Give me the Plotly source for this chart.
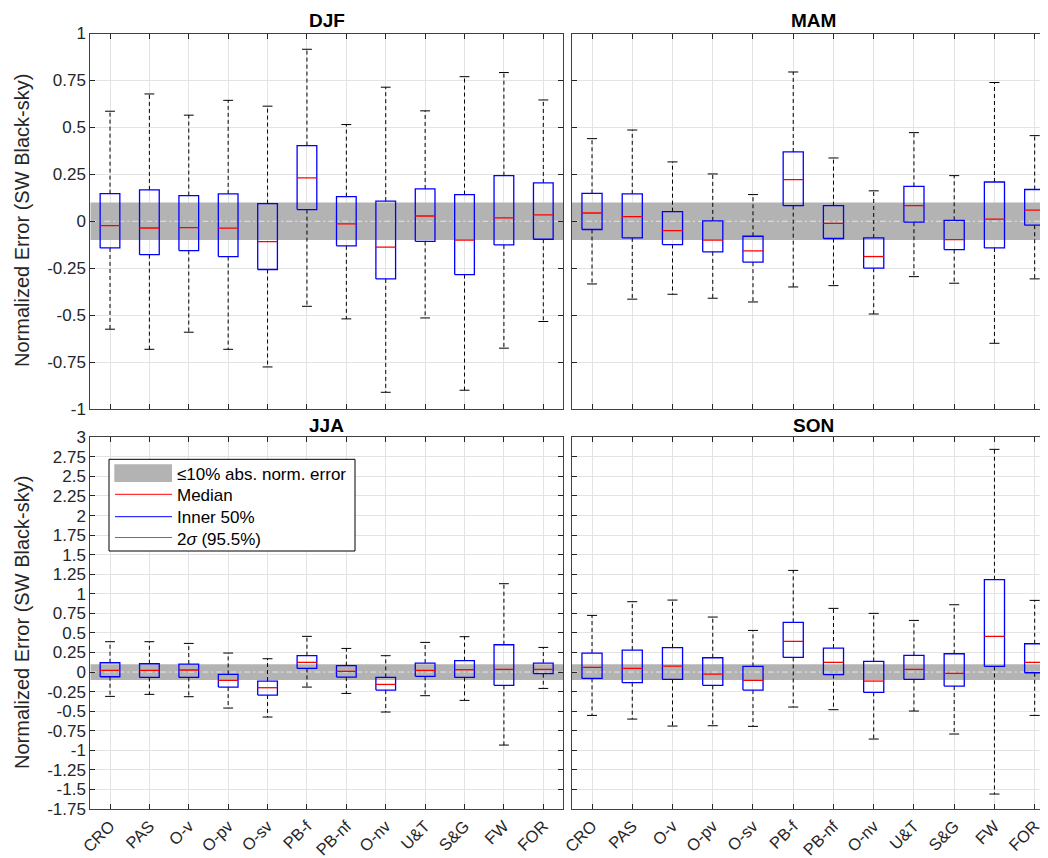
import plotly.graph_objects as go

# ---------------- data ----------------
categories = ["CRO", "PAS", "O-v", "O-pv", "O-sv", "PB-f", "PB-nf", "O-nv", "U&T", "S&G", "FW", "FOR"]

djf_hi = [0.586, 0.678, 0.565, 0.644, 0.613, 0.916, 0.515, 0.714, 0.588, 0.770, 0.792, 0.646]
djf_q3 = [0.147, 0.167, 0.137, 0.146, 0.094, 0.403, 0.131, 0.107, 0.172, 0.142, 0.243, 0.204]
djf_med = [-0.023, -0.036, -0.034, -0.037, -0.108, 0.231, -0.014, -0.138, 0.028, -0.101, 0.018, 0.034]
djf_q1 = [-0.142, -0.178, -0.156, -0.188, -0.257, 0.062, -0.131, -0.307, -0.107, -0.284, -0.126, -0.096]
djf_lo = [-0.575, -0.682, -0.591, -0.682, -0.776, -0.453, -0.520, -0.911, -0.515, -0.900, -0.676, -0.534]

mam_hi = [0.440, 0.486, 0.316, 0.252, 0.142, 0.795, 0.337, 0.162, 0.472, 0.243, 0.739, 0.456]
mam_q3 = [0.149, 0.146, 0.051, 0.002, -0.080, 0.369, 0.083, -0.089, 0.186, 0.005, 0.209, 0.169]
mam_med = [0.044, 0.025, -0.050, -0.101, -0.158, 0.222, -0.011, -0.188, 0.083, -0.098, 0.011, 0.059]
mam_q1 = [-0.044, -0.089, -0.124, -0.163, -0.218, 0.083, -0.092, -0.250, -0.005, -0.151, -0.142, -0.021]
mam_lo = [-0.334, -0.415, -0.389, -0.410, -0.430, -0.350, -0.343, -0.494, -0.295, -0.330, -0.650, -0.307]

jja_hi = [0.388, 0.388, 0.366, 0.243, 0.170, 0.456, 0.302, 0.209, 0.379, 0.452, 1.129, 0.315]
jja_q3 = [0.119, 0.106, 0.102, -0.030, -0.115, 0.209, 0.081, -0.068, 0.115, 0.145, 0.349, 0.115]
jja_med = [0.021, 0.021, 0.026, -0.106, -0.200, 0.124, 0.009, -0.158, 0.021, 0.030, 0.034, 0.034]
jja_q1 = [-0.060, -0.068, -0.068, -0.192, -0.294, 0.047, -0.064, -0.230, -0.055, -0.068, -0.170, -0.021]
jja_lo = [-0.311, -0.285, -0.315, -0.460, -0.575, -0.192, -0.273, -0.511, -0.302, -0.362, -0.933, -0.209]

son_hi = [0.724, 0.899, 0.920, 0.703, 0.532, 1.299, 0.814, 0.750, 0.660, 0.860, 2.846, 0.916]
son_q3 = [0.243, 0.281, 0.311, 0.183, 0.072, 0.635, 0.307, 0.136, 0.213, 0.234, 1.180, 0.362]
son_med = [0.060, 0.047, 0.077, -0.026, -0.106, 0.392, 0.124, -0.115, 0.034, -0.017, 0.456, 0.124]
son_q1 = [-0.081, -0.136, -0.094, -0.170, -0.230, 0.187, -0.034, -0.260, -0.094, -0.179, 0.072, -0.009]
son_lo = [-0.554, -0.601, -0.690, -0.686, -0.694, -0.447, -0.481, -0.856, -0.498, -0.792, -1.559, -0.554]

season_titles = ["DJF", "MAM", "JJA", "SON"]
top_ticks = [-1, -0.75, -0.5, -0.25, 0, 0.25, 0.5, 0.75, 1]
top_tick_labels = ["-1", "-0.75", "-0.5", "-0.25", "0", "0.25", "0.5", "0.75", "1"]
bot_ticks = [-1.75, -1.5, -1.25, -1, -0.75, -0.5, -0.25, 0, 0.25, 0.5, 0.75, 1,
             1.25, 1.5, 1.75, 2, 2.25, 2.5, 2.75, 3]
bot_tick_labels = ["-1.75", "-1.5", "-1.25", "-1", "-0.75", "-0.5", "-0.25", "0", "0.25",
                   "0.5", "0.75", "1", "1.25", "1.5", "1.75", "2", "2.25", "2.5", "2.75", "3"]
band_half = 0.1
y_title = "Normalized Error (SW Black-sky)"
legend_labels = ["\u226410% abs. norm. error", "Median", "Inner 50%", "2<i>\u03c3</i> (95.5%)"]

# ---------------- styling ----------------
FONT = "Liberation Sans, Arial, Helvetica, sans-serif"
AXC = "#262626"
GRID = "#e3e3e3"
BOX_HW = 0.25
CAP_HW = 0.125
W, H = 1048, 858
OFF = 8  # page body margin of the HTML page


def px(x):
    return (x - OFF) / W


def py(y):
    return 1 - (y - OFF) / H


positions = [i + 1 for i in range(len(categories))]
x_lo, x_hi = 0.5, len(categories) + 0.5

panels = [
    ("", djf_hi, djf_q3, djf_med, djf_q1, djf_lo),
    ("2", mam_hi, mam_q3, mam_med, mam_q1, mam_lo),
    ("3", jja_hi, jja_q3, jja_med, jja_q1, jja_lo),
    ("4", son_hi, son_q3, son_med, son_q1, son_lo),
]

fig = go.Figure()
for sfx, hi, q3, med, q1, lo in panels:
    xa, ya = "x" + sfx, "y" + sfx
    common = dict(xaxis=xa, yaxis=ya, hoverinfo="skip", showlegend=False)
    # +/-10% band and zero reference line
    fig.add_trace(go.Scatter(x=[x_lo, x_hi, x_hi, x_lo, x_lo],
                             y=[-band_half, -band_half, band_half, band_half, -band_half],
                             mode="lines", fill="toself", fillcolor="#b3b3b3",
                             line=dict(width=0, color="#b3b3b3"), **common))
    fig.add_trace(go.Scatter(x=[x_lo, x_hi], y=[0, 0], mode="lines",
                             line=dict(color="#e6e6e6", width=1, dash="6px,3px,2px,3px"),
                             **common))
    wx, wy, cx, cy, bx, by, mx, my = [], [], [], [], [], [], [], []
    for p, h, a, m, b, l in zip(positions, hi, q3, med, q1, lo):
        wx += [p, p, None, p, p, None]
        wy += [a, h, None, b, l, None]
        cx += [p - CAP_HW, p + CAP_HW, None, p - CAP_HW, p + CAP_HW, None]
        cy += [h, h, None, l, l, None]
        bx += [p - BOX_HW, p + BOX_HW, p + BOX_HW, p - BOX_HW, p - BOX_HW, None]
        by += [b, b, a, a, b, None]
        mx += [p - BOX_HW, p + BOX_HW, None]
        my += [m, m, None]
    fig.add_trace(go.Scatter(x=wx, y=wy, mode="lines",
                             line=dict(color="black", width=1, dash="4px,3px"), **common))
    fig.add_trace(go.Scatter(x=cx, y=cy, mode="lines", line=dict(color="black", width=1), **common))
    fig.add_trace(go.Scatter(x=bx, y=by, mode="lines", line=dict(color="#0000ff", width=1.3), **common))
    fig.add_trace(go.Scatter(x=mx, y=my, mode="lines", line=dict(color="#ff0000", width=1.3), **common))

# domains (paper), in window pixels of the reference
left_dom = [px(90.3), px(563.0)]
right_dom = [px(571.9), min(1.0, px(1054.8))]
top_dom = [py(409), py(33.5)]
bot_dom = [py(809), py(437.3)]


def xaxis_cfg(dom, show_labels, anchor):
    return dict(domain=dom, range=[x_lo, x_hi], tickmode="array", tickvals=positions,
                ticktext=categories, showticklabels=show_labels, tickangle=-45,
                ticks="inside", ticklen=5, tickcolor=AXC, showgrid=True, gridcolor=GRID,
                gridwidth=1, showline=True, linecolor="#404040", linewidth=1, mirror="ticks",
                zeroline=False, anchor=anchor, layer="above traces", automargin=False,
                tickfont=dict(family=FONT, size=16.5, color=AXC))


def yaxis_cfg(dom, rng, tv, tt, show_labels, anchor):
    return dict(domain=dom, range=rng, tickmode="array", tickvals=tv, ticktext=tt,
                showticklabels=show_labels, ticks="inside", ticklen=5,
                tickcolor=AXC, showgrid=True, gridcolor=GRID, gridwidth=1,
                showline=True, linecolor="#404040", linewidth=1, mirror="ticks",
                zeroline=False, anchor=anchor, layer="above traces", automargin=False,
                tickfont=dict(family=FONT, size=17, color=AXC))


fig.update_layout(
    xaxis=xaxis_cfg(left_dom, False, "y"),
    xaxis2=xaxis_cfg(right_dom, False, "y2"),
    xaxis3=xaxis_cfg(left_dom, True, "y3"),
    xaxis4=xaxis_cfg(right_dom, True, "y4"),
    yaxis=yaxis_cfg(top_dom, [-1, 1], top_ticks, top_tick_labels, True, "x"),
    yaxis2=yaxis_cfg(top_dom, [-1, 1], top_ticks, top_tick_labels, False, "x2"),
    yaxis3=yaxis_cfg(bot_dom, [-1.75, 3], bot_ticks, bot_tick_labels, True, "x3"),
    yaxis4=yaxis_cfg(bot_dom, [-1.75, 3], bot_ticks, bot_tick_labels, False, "x4"),
)

# legend (drawn manually in JJA panel area)
shapes = []
shapes.append(dict(type="rect", xref="paper", yref="paper", x0=px(109), x1=px(355),
                   y0=py(551), y1=py(459.3), fillcolor="white",
                   line=dict(color="black", width=1), layer="above"))
shapes.append(dict(type="rect", xref="paper", yref="paper", x0=px(114.3), x1=px(172),
                   y0=py(482), y1=py(464.3), fillcolor="#b3b3b3",
                   line=dict(width=0), layer="above"))
for yy, col in [(494.3, "#ff0000"), (516.7, "#0000ff"), (537.5, "#707070")]:
    shapes.append(dict(type="line", xref="paper", yref="paper", x0=px(115), x1=px(172),
                       y0=py(yy), y1=py(yy), line=dict(color=col, width=1),
                       layer="above"))

annotations = []
for txt, yy in zip(legend_labels, [474.3, 496, 517.7, 539.3]):
    annotations.append(dict(text=txt, xref="paper", yref="paper", x=px(175), y=py(yy),
                            xanchor="left", yanchor="middle", showarrow=False,
                            font=dict(family=FONT, size=17, color="black")))

# panel titles
for txt, xc, yc in zip(season_titles,
                       [326.6, 813.3, 326.6, 813.3],
                       [21, 21, 425, 425]):
    annotations.append(dict(text="<b>%s</b>" % txt, xref="paper", yref="paper",
                            x=px(xc), y=py(yc), xanchor="center", yanchor="middle",
                            showarrow=False, font=dict(family=FONT, size=19, color="black")))

# y titles
for yc in [221, 623]:
    annotations.append(dict(text=y_title, xref="paper", yref="paper", x=px(22), y=py(yc),
                            xanchor="center", yanchor="middle", textangle=-90,
                            showarrow=False, font=dict(family=FONT, size=20, color=AXC)))

fig.update_layout(
    width=W, height=H, margin=dict(l=0, r=0, t=0, b=0, autoexpand=False),
    paper_bgcolor="white", plot_bgcolor="white",
    shapes=shapes, annotations=annotations, showlegend=False,
    font=dict(family=FONT, color=AXC),
)

fig.write_html("out.html")
